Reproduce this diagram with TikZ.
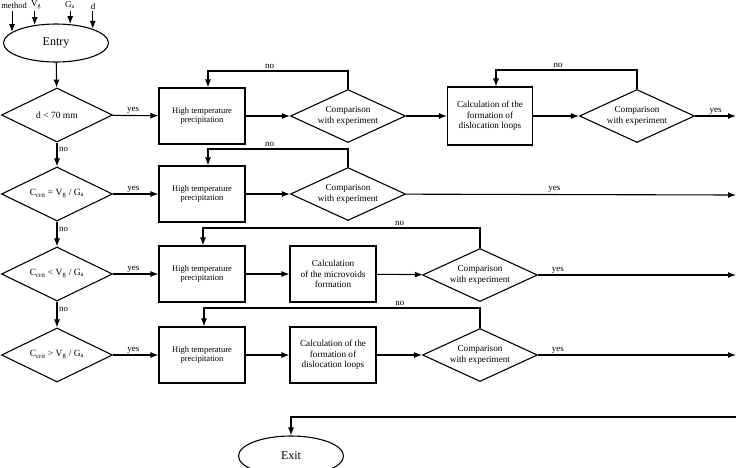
\documentclass[tikz,border=0pt]{standalone}
\usepackage{fontspec}
\setmainfont{Liberation Serif}
\usetikzlibrary{shapes, arrows, arrows.meta, positioning}

\begin{document}
\begin{tikzpicture}[x=1pt, y=-1pt, line width=1.1pt, >={Latex[length=8pt,width=6pt]},
  every node/.style={font=\fontsize{9.2}{10.5}\selectfont},
  box/.style={rectangle, draw, align=center, minimum width=86pt, minimum height=56pt, inner sep=2pt},
  htbox/.style={box, font=\fontsize{8.5}{9.8}\selectfont},
  test/.style={diamond, draw, aspect=2, inner sep=0pt, minimum width=111pt, minimum height=54pt, align=center, font=\fontsize{9.5}{11}\selectfont},
  cmp/.style={diamond, draw, aspect=2, inner sep=0pt, minimum width=115pt, minimum height=53pt, align=center},
  term/.style={ellipse, draw, inner sep=0pt, minimum width=105pt, minimum height=38pt, font=\fontsize{12}{14}\selectfont},
  lbl/.style={font=\fontsize{9}{10}\selectfont, inner sep=1.5pt}]
  \useasboundingbox (0,0) rectangle (736,467);

  % Nodes
  \node [term] (entry) at (56,43) {Entry};
  \node [lbl, font=\fontsize{8.5}{9}\selectfont] (method) at (14,6) {method};
  \node [lbl] (vg) at (36,5) {V\textsubscript{g}};
  \node [lbl] (ga) at (70,5) {G\textsubscript{a}};
  \node [lbl] (dd) at (93,6) {d};

  \node [test] (size) at (57,115) {d < 70 mm};
  \node [test] (eq) at (57,194) {C\textsubscript{crit} = V\textsubscript{g} / G\textsubscript{a}};
  \node [test] (lt) at (57,274) {C\textsubscript{crit} < V\textsubscript{g} / G\textsubscript{a}};
  \node [test] (gt) at (57,355) {C\textsubscript{crit} > V\textsubscript{g} / G\textsubscript{a}};

  \node [htbox] (ht1) at (202,116) {High temperature\\precipitation};
  \node [cmp] (cmp1) at (348,116) {Comparison\\with experiment};
  \node [box, minimum width=85pt, minimum height=58pt] (loops1) at (490,116) {Calculation of the\\formation of\\dislocation loops};
  \node [cmp] (cmp1b) at (637,116) {Comparison\\with experiment};
  \coordinate (out1) at (736,116);

  \node [htbox] (ht2) at (202,194) {High temperature\\precipitation};
  \node [cmp] (cmp2) at (348,194) {Comparison\\with experiment};
  \coordinate (out2) at (736,195);

  \node [htbox] (ht3) at (202,274) {High temperature\\precipitation};
  \node [box] (voids3) at (333,274) {Calculation\\of the microvoids\\formation};
  \node [cmp] (cmp3) at (480,275) {Comparison\\with experiment};
  \coordinate (out3) at (736,275);

  \node [htbox] (ht4) at (202,355) {High temperature\\precipitation};
  \node [box] (loops4) at (333,355) {Calculation of the\\formation of\\dislocation loops};
  \node [cmp] (cmp4) at (480,355) {Comparison\\with experiment};
  \coordinate (out4) at (736,355);

  \coordinate (ret) at (736,417);
  \node [term, minimum height=40pt] (exit) at (291,456) {Exit};

  % Edges
  \draw [->] (entry.166 |- method.south) -- (entry.166);
  \draw [->] (entry.140 |- vg.south) -- (entry.140);
  \draw [->] (entry.53 |- ga.south) -- (entry.53);
  \draw [->] (entry.21 |- dd.south) -- (entry.21);

  \draw [->] (entry) -- (size);
  \draw [->] (size) -- node [lbl, right, pos=0.3] {no} (eq);
  \draw [->] (eq) -- node [lbl, right, pos=0.3] {no} (lt);
  \draw [->] (lt) -- node [lbl, right, pos=0.3] {no} (gt);

  \draw [->] (size) -- node [lbl, above, pos=0.45] {yes} (ht1);
  \draw [->] (eq) -- node [lbl, above, pos=0.45] {yes} (ht2);
  \draw [->] (lt) -- node [lbl, above, pos=0.45] {yes} (ht3);
  \draw [->] (gt) -- node [lbl, above, pos=0.45] {yes} (ht4);

  % row 1
  \draw [->] (ht1) -- (cmp1);
  \draw [->] (cmp1) -- (loops1);
  \draw [->] (loops1) -- (cmp1b);
  \draw [->] (cmp1b) -- node [lbl, above] {yes} (out1);
  \draw [->] (cmp1.north) -- ++(0,-18) -| node [lbl, above, pos=0.28] {no} ([xshift=6pt]ht1.north);
  \draw [->] (cmp1b.north) -- ++(0,-19) -| node [lbl, above, pos=0.28] {no} ([xshift=6pt]loops1.north);

  % row 2
  \draw [->] (ht2) -- (cmp2);
  \draw [->] (cmp2) -- node [lbl, above, pos=0.45] {yes} (out2);
  \draw [->] (cmp2.north) -- ++(0,-18) -| node [lbl, above, pos=0.28] {no} ([xshift=6pt]ht2.north);

  % row 3
  \draw [->] (ht3) -- (voids3);
  \draw [->] (voids3) -- (cmp3);
  \draw [->] (cmp3) -- node [lbl, above, pos=0.1] {yes} (out3);
  \draw [->] (cmp3.north) -- ++(0,-20) -| node [lbl, above, pos=0.145] {no} ([xshift=1pt]ht3.north);

  % row 4
  \draw [->] (ht4) -- (loops4);
  \draw [->] (loops4) -- (cmp4);
  \draw [->] (cmp4) -- node [lbl, above, pos=0.1] {yes} (out4);
  \draw [->] (cmp4.north) -- ++(0,-20) -| node [lbl, above, pos=0.145] {no} ([xshift=2pt]ht4.north);

  % exit
  \draw [->] (ret) -| (exit.north);
\end{tikzpicture}
\end{document}
